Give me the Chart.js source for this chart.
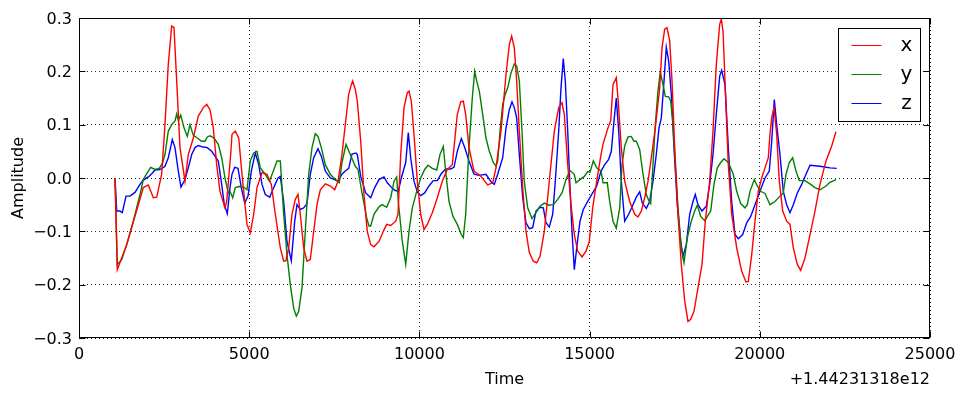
<!DOCTYPE html>
<html>
<head>
<meta charset="utf-8">
<script src="https://cdn.jsdelivr.net/npm/chart.js@4.4.1/dist/chart.umd.min.js"></script>
<style>
  html, body { margin: 0; padding: 0; background: #fff; }
</style>
</head>
<body>
<canvas id="chart" width="965" height="397"></canvas>
<script>
// time is shown relative to this offset (matplotlib-style offset text)
const timeOffsetLabel = '+1.44231318e12';

const timesX = [1058, 1125, 1401, 1889, 2036, 2183, 2283, 2429, 2526, 2623, 2723, 2791, 2870, 2967, 3114, 3211, 3358, 3505, 3652, 3751, 3848, 3945, 4045, 4142, 4289, 4339, 4456, 4495, 4592, 4692, 4788, 4935, 5032, 5132, 5229, 5376, 5523, 5649, 5767, 5914, 6013, 6081, 6160, 6257, 6354, 6434, 6501, 6601, 6698, 6795, 6895, 6992, 7089, 7236, 7383, 7512, 7609, 7726, 7823, 7923, 8000, 8041, 8117, 8176, 8276, 8372, 8469, 8569, 8666, 8813, 8940, 9039, 9157, 9304, 9371, 9451, 9548, 9645, 9694, 9762, 9841, 9938, 10038, 10135, 10232, 10379, 10526, 10673, 10820, 10967, 11016, 11113, 11213, 11290, 11360, 11457, 11604, 11810, 12006, 12153, 12250, 12397, 12544, 12641, 12711, 12788, 12858, 12935, 13035, 13132, 13229, 13346, 13446, 13543, 13669, 13816, 13963, 14092, 14189, 14257, 14357, 14454, 14551, 14650, 14777, 14894, 14991, 15091, 15209, 15335, 15394, 15540, 15620, 15687, 15784, 15834, 15931, 16031, 16178, 16325, 16422, 16519, 16618, 16716, 16813, 16930, 17059, 17127, 17206, 17274, 17353, 17421, 17500, 17597, 17694, 17794, 17891, 17970, 18067, 18184, 18302, 18399, 18528, 18625, 18722, 18822, 18870, 18920, 18978, 19075, 19174, 19321, 19468, 19594, 19662, 19762, 19859, 19956, 20056, 20153, 20250, 20299, 20350, 20417, 20496, 20573, 20673, 20790, 20887, 20984, 21102, 21201, 21328, 21475, 21621, 21768, 21945, 22112, 22238];
const ampX = [0, -0.172, -0.125, -0.018, -0.013, -0.037, -0.036, 0.007, 0.1, 0.213, 0.285, 0.282, 0.182, 0.057, -0.006, 0.044, 0.075, 0.116, 0.132, 0.138, 0.128, 0.094, 0.025, -0.025, -0.056, -0.044, 0.044, 0.082, 0.088, 0.075, 0.007, -0.087, -0.103, -0.068, -0.018, 0.01, 0.007, -0.012, -0.068, -0.131, -0.156, -0.155, -0.131, -0.068, -0.04, -0.031, -0.068, -0.131, -0.156, -0.153, -0.1, -0.05, -0.022, -0.011, -0.015, -0.022, -0.006, 0.044, 0.1, 0.157, 0.175, 0.182, 0.166, 0.144, 0.069, -0.031, -0.1, -0.125, -0.129, -0.119, -0.1, -0.087, -0.089, -0.081, -0.068, 0.044, 0.132, 0.16, 0.163, 0.144, 0.082, -0.006, -0.068, -0.097, -0.087, -0.065, -0.037, -0.006, 0.016, 0.025, 0.057, 0.119, 0.143, 0.144, 0.119, 0.057, 0.013, 0.003, -0.013, -0.009, 0.019, 0.088, 0.194, 0.25, 0.266, 0.244, 0.182, 0.088, -0.018, -0.1, -0.14, -0.156, -0.159, -0.147, -0.1, -0.006, 0.088, 0.132, 0.141, 0.119, 0.025, -0.05, -0.106, -0.137, -0.148, -0.137, -0.119, -0.056, -0.006, 0.044, 0.063, 0.094, 0.107, 0.175, 0.188, 0.15, 0.057, -0.006, -0.044, -0.068, -0.073, -0.062, -0.037, -0.006, 0.038, 0.094, 0.169, 0.244, 0.279, 0.282, 0.257, 0.182, 0.057, -0.068, -0.162, -0.231, -0.269, -0.265, -0.25, -0.206, -0.162, -0.081, -0.006, 0.088, 0.213, 0.288, 0.298, 0.275, 0.182, 0.025, -0.068, -0.131, -0.175, -0.195, -0.194, -0.144, -0.081, -0.025, 0, 0.019, 0.038, 0.082, 0.113, 0.132, 0.082, -0.006, -0.062, -0.081, -0.087, -0.131, -0.162, -0.173, -0.15, -0.106, -0.062, -0.012, 0.032, 0.06, 0.087];

const timesY = [1058, 1125, 1254, 1401, 1595, 1792, 1889, 1989, 2106, 2233, 2359, 2459, 2526, 2623, 2723, 2820, 2870, 2917, 2988, 3085, 3182, 3261, 3358, 3475, 3605, 3702, 3769, 3848, 3966, 4092, 4192, 4289, 4386, 4436, 4515, 4592, 4692, 4838, 4935, 5032, 5132, 5229, 5326, 5473, 5591, 5690, 5817, 5914, 6013, 6110, 6207, 6307, 6384, 6454, 6551, 6648, 6748, 6845, 6942, 7021, 7118, 7236, 7383, 7529, 7647, 7726, 7844, 7970, 8117, 8196, 8323, 8452, 8519, 8569, 8666, 8813, 8910, 9039, 9157, 9254, 9333, 9380, 9498, 9598, 9694, 9791, 9921, 10038, 10155, 10253, 10379, 10508, 10605, 10702, 10772, 10869, 10987, 11113, 11231, 11290, 11360, 11457, 11554, 11624, 11683, 11760, 11860, 11956, 12054, 12171, 12250, 12300, 12368, 12447, 12523, 12594, 12691, 12788, 12858, 12935, 13014, 13081, 13181, 13308, 13425, 13543, 13669, 13798, 13934, 14063, 14189, 14307, 14424, 14551, 14600, 14718, 14844, 14944, 15012, 15109, 15209, 15335, 15394, 15520, 15590, 15687, 15784, 15885, 15952, 16031, 16128, 16225, 16304, 16372, 16472, 16569, 16666, 16736, 16795, 16862, 16930, 17009, 17077, 17156, 17224, 17324, 17383, 17450, 17518, 17597, 17694, 17773, 17870, 17988, 18087, 18164, 18264, 18381, 18478, 18558, 18654, 18752, 18851, 18948, 19075, 19222, 19321, 19439, 19565, 19633, 19712, 19838, 19926, 20026, 20153, 20299, 20447, 20593, 20690, 20770, 20867, 20966, 21063, 21160, 21328, 21475, 21621, 21768, 21945, 22062, 22238];
const ampY = [0, -0.162, -0.153, -0.125, -0.081, -0.031, -0.003, 0.008, 0.02, 0.016, 0.018, 0.029, 0.044, 0.088, 0.1, 0.107, 0.12, 0.108, 0.118, 0.094, 0.078, 0.1, 0.08, 0.075, 0.069, 0.069, 0.077, 0.079, 0.075, 0.063, 0.038, 0, -0.028, -0.025, -0.037, -0.018, -0.016, -0.017, -0.022, 0.032, 0.047, 0.05, 0.019, 0.007, -0.006, 0.01, 0.032, 0.032, -0.068, -0.144, -0.2, -0.244, -0.259, -0.25, -0.206, -0.1, 0.007, 0.057, 0.083, 0.078, 0.057, 0.025, 0.007, -0.003, -0.009, 0.029, 0.063, 0.044, 0.022, 0.016, -0.031, -0.075, -0.09, -0.09, -0.068, -0.054, -0.05, -0.055, -0.037, -0.006, 0.002, -0.044, -0.119, -0.162, -0.1, -0.056, -0.025, 0, 0.016, 0.024, 0.018, 0.015, 0.044, 0.059, 0.013, -0.044, -0.072, -0.087, -0.106, -0.112, -0.068, 0.057, 0.15, 0.2, 0.182, 0.163, 0.119, 0.075, 0.05, 0.029, 0.022, 0.032, 0.088, 0.138, 0.157, 0.169, 0.197, 0.214, 0.21, 0.182, 0.088, -0.006, -0.056, -0.076, -0.065, -0.053, -0.047, -0.051, -0.05, -0.04, -0.028, -0.003, 0.014, 0.007, -0.009, -0.003, 0.003, 0.012, 0.011, 0.032, 0.019, 0.013, -0.009, -0.009, -0.044, -0.081, -0.094, -0.056, 0.025, 0.06, 0.077, 0.078, 0.069, 0.069, 0.053, 0.007, -0.031, -0.042, -0.048, 0.025, 0.1, 0.163, 0.199, 0.175, 0.153, 0.152, 0.144, 0.1, 0.025, -0.056, -0.131, -0.159, -0.112, -0.081, -0.062, -0.051, -0.072, -0.08, -0.07, -0.062, -0.012, 0.019, 0.029, 0.036, 0.029, 0.007, -0.025, -0.048, -0.056, -0.05, -0.025, -0.003, -0.015, -0.025, -0.029, -0.05, -0.044, -0.034, -0.028, 0.007, 0.029, 0.038, 0.013, -0.005, -0.005, -0.011, -0.018, -0.022, -0.015, -0.008, -0.003];

const timesZ = [1058, 1108, 1204, 1272, 1381, 1498, 1645, 1792, 1889, 2036, 2136, 2233, 2380, 2526, 2623, 2741, 2820, 2917, 2996, 3114, 3211, 3311, 3408, 3505, 3652, 3769, 3898, 3995, 4092, 4192, 4268, 4357, 4436, 4495, 4574, 4671, 4768, 4868, 4965, 5062, 5179, 5279, 5376, 5473, 5602, 5720, 5846, 5914, 6013, 6110, 6237, 6337, 6404, 6501, 6601, 6698, 6795, 6895, 7021, 7118, 7236, 7383, 7609, 7726, 7823, 7923, 8020, 8137, 8176, 8276, 8422, 8569, 8687, 8813, 8960, 9057, 9186, 9274, 9380, 9468, 9598, 9674, 9744, 9841, 9938, 10038, 10155, 10282, 10408, 10526, 10643, 10772, 10919, 11016, 11113, 11231, 11331, 11457, 11604, 11751, 11956, 12103, 12200, 12300, 12447, 12544, 12641, 12720, 12788, 12858, 12935, 13035, 13132, 13229, 13328, 13425, 13543, 13640, 13719, 13816, 13916, 13992, 14092, 14160, 14227, 14286, 14357, 14424, 14483, 14551, 14621, 14718, 14815, 14944, 15091, 15209, 15335, 15443, 15561, 15638, 15717, 15784, 15855, 15931, 16031, 16149, 16275, 16372, 16472, 16548, 16666, 16765, 16862, 16959, 17039, 17106, 17186, 17253, 17324, 17400, 17479, 17576, 17676, 17744, 17841, 17941, 18037, 18105, 18184, 18302, 18428, 18528, 18625, 18722, 18822, 18880, 18978, 19075, 19174, 19271, 19368, 19497, 19615, 19733, 19859, 20006, 20153, 20279, 20350, 20426, 20496, 20593, 20690, 20790, 20887, 20984, 21102, 21231, 21357, 21475, 21768, 22062, 22259];
const ampZ = [0, -0.062, -0.062, -0.065, -0.034, -0.034, -0.027, -0.012, -0.004, 0.002, 0.008, 0.015, 0.016, 0.022, 0.038, 0.072, 0.057, 0.013, -0.017, -0.003, 0.019, 0.044, 0.057, 0.061, 0.058, 0.057, 0.05, 0.041, 0.032, -0.012, -0.05, -0.067, -0.018, 0.007, 0.02, 0.018, -0.018, -0.047, -0.034, 0.013, 0.047, 0.025, -0.012, -0.031, -0.036, -0.018, 0, 0.003, -0.044, -0.119, -0.155, -0.081, -0.05, -0.059, -0.056, -0.048, 0.007, 0.038, 0.055, 0.041, 0.013, 0, -0.006, 0.007, 0.013, 0.018, 0.045, 0.047, 0.044, 0.003, -0.028, -0.037, -0.018, -0.003, 0.002, -0.009, -0.018, -0.023, -0.025, 0, 0.029, 0.085, 0.038, -0.006, -0.026, -0.033, -0.028, -0.015, -0.005, -0.005, 0.008, 0.017, 0.017, 0.02, 0.05, 0.074, 0.057, 0.032, 0.007, 0.005, 0.007, -0.007, -0.012, 0.007, 0.038, 0.094, 0.128, 0.143, 0.132, 0.113, 0.044, -0.037, -0.084, -0.095, -0.093, -0.062, -0.055, -0.056, -0.084, -0.092, -0.068, -0.006, 0.088, 0.169, 0.224, 0.182, 0.088, -0.018, -0.1, -0.172, -0.131, -0.081, -0.059, -0.044, -0.028, -0.015, 0.013, 0.025, 0.035, 0.05, 0.107, 0.15, 0.088, -0.006, -0.081, -0.068, -0.05, -0.036, -0.026, -0.047, -0.057, -0.044, -0.006, 0.044, 0.094, 0.112, 0.182, 0.245, 0.219, 0.157, 0.057, -0.05, -0.119, -0.147, -0.125, -0.068, -0.044, -0.031, -0.05, -0.062, -0.053, -0.012, 0.044, 0.119, 0.191, 0.202, 0.175, 0.057, -0.044, -0.106, -0.114, -0.106, -0.084, -0.072, -0.05, -0.025, 0, 0.013, 0.069, 0.147, 0.1, 0.044, -0.025, -0.05, -0.065, -0.05, -0.028, -0.012, 0.007, 0.024, 0.022, 0.019, 0.018];

const seriesNames = ['x', 'y', 'z'];
const seriesColors = ['#ff0000', '#008000', '#0000ff'];
const seriesTimes = [timesX, timesY, timesZ];
const seriesAmps = [ampX, ampY, ampZ];

const FONT = 'DejaVu Sans';

function toPoints(times, amps) {
  return times.map((t, i) => ({ x: t, y: amps[i] }));
}

// classic matplotlib look: full frame, inward ticks, offset text, boxed legend
const mplFrame = {
  id: 'mplFrame',
  afterDatasetsDraw(chart) {
    const { ctx, chartArea: a, scales } = chart;
    const L = Math.round(a.left) + 0.5, R = Math.round(a.right) - 0.5;
    const T = Math.round(a.top) + 0.5, B = Math.round(a.bottom) - 0.5;
    const tick = 6;
    ctx.save();
    ctx.strokeStyle = '#000';
    ctx.lineWidth = 1;
    ctx.setLineDash([]);
    ctx.strokeRect(L, T, R - L, B - T);

    ctx.beginPath();
    scales.x.ticks.forEach(t => {
      const px = Math.round(scales.x.getPixelForValue(t.value)) + 0.5;
      ctx.moveTo(px, B); ctx.lineTo(px, B - tick);
      ctx.moveTo(px, T); ctx.lineTo(px, T + tick);
    });
    scales.y.ticks.forEach(t => {
      const py = Math.round(scales.y.getPixelForValue(t.value)) + 0.5;
      ctx.moveTo(L, py); ctx.lineTo(L + tick, py);
      ctx.moveTo(R, py); ctx.lineTo(R - tick, py);
    });
    ctx.stroke();

    // offset text under the right end of the x axis
    ctx.fillStyle = '#000';
    ctx.font = '16px "' + FONT + '"';
    ctx.textAlign = 'right';
    ctx.textBaseline = 'middle';
    ctx.fillText(timeOffsetLabel, a.right, a.bottom + 42);

    // legend box in the upper right corner
    const boxW = 82, boxH = 93;
    const bx = Math.round(a.right) - 10 - boxW + 0.5;
    const by = Math.round(a.top) + 10 + 0.5;
    ctx.fillStyle = '#fff';
    ctx.fillRect(bx, by, boxW, boxH);
    ctx.strokeRect(bx, by, boxW, boxH);
    ctx.font = '20px "' + FONT + '"';
    ctx.textAlign = 'center';
    chart.data.datasets.forEach((ds, i) => {
      const ly = by + 17 + i * 29;
      ctx.strokeStyle = ds.borderColor;
      ctx.beginPath();
      ctx.moveTo(bx + 13, ly); ctx.lineTo(bx + 43, ly);
      ctx.stroke();
      ctx.fillStyle = '#000';
      ctx.fillText(ds.label, bx + 68, ly);
    });
    ctx.restore();
  }
};

const axisTitle = text => ({ display: true, text, color: '#000', font: { family: FONT, size: 16 } });

new Chart(document.getElementById('chart'), {
  type: 'line',
  data: {
    datasets: seriesNames.map((name, i) => ({
      label: name,
      data: toPoints(seriesTimes[i], seriesAmps[i]),
      borderColor: seriesColors[i],
      borderWidth: 1.4,
      pointRadius: 0,
      tension: 0,
      fill: false,
    })),
  },
  options: {
    responsive: false,
    animation: false,
    devicePixelRatio: 1,
    layout: { padding: { top: 18, right: 35, left: 0, bottom: 0 } },
    plugins: { legend: { display: false }, tooltip: { enabled: false } },
    scales: {
      x: {
        type: 'linear',
        min: 0,
        max: 25000,
        ticks: {
          stepSize: 5000,
          padding: 7,
          color: '#000',
          font: { family: FONT, size: 16 },
          maxRotation: 0,
          callback: v => String(v),
        },
        grid: { color: 'rgba(0,0,0,0.85)', lineWidth: 1, drawTicks: false },
        border: { display: false, dash: [1, 3] },
        title: Object.assign(axisTitle('Time'), { padding: { top: 0, bottom: 8 } }),
        afterFit(scale) { scale.height = 59; },
      },
      y: {
        min: -0.3,
        max: 0.3,
        ticks: {
          stepSize: 0.1,
          padding: 7,
          labelOffset: 1.5,
          color: '#000',
          font: { family: FONT, size: 16 },
          callback: v => v.toFixed(1).replace('-', '\u2212'),
        },
        grid: { color: 'rgba(0,0,0,0.85)', lineWidth: 1, drawTicks: false },
        border: { display: false, dash: [1, 3] },
        title: Object.assign(axisTitle('Amplitude'), { padding: { top: 9, bottom: 0 } }),
        afterFit(scale) { scale.width = 79; },
      },
    },
  },
  plugins: [mplFrame],
});
</script>
</body>
</html>
